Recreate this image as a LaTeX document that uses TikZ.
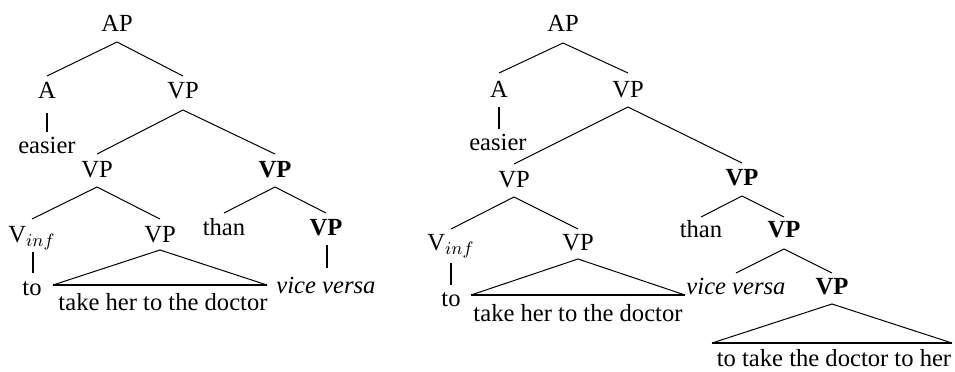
\documentclass[tikz,border=0pt]{standalone}
\usepackage{fontspec}
\setmainfont{Liberation Serif}
\usetikzlibrary{calc}
\begin{document}
\begin{tikzpicture}[x=0.5pt,y=-0.5pt,
  lbl/.style={anchor=base,inner sep=0pt,font=\fontsize{12.3}{14}\selectfont},
  branch/.style={line width=0.5pt},
  unary/.style={line width=1pt},
  roof/.style={line width=0.5pt},
  roofbase/.style={line width=1pt}]
\useasboundingbox (0,0) rectangle (955,371);

% ---------- first tree ----------
\node[lbl] (ap1)     at (117,31)  {AP};
\node[lbl] (a1)      at (47,98)   {A};
\node[lbl] (vp1)     at (183,98)  {VP};
\node[lbl] (easier1) at (47,153)  {easier};
\node[lbl] (vpl1)    at (97,177)  {VP};
\node[lbl] (vpb1)    at (275,177) {\textbf{VP}};
\node[lbl] (vinf1)   at (32,242)  {V$_{inf}$};
\node[lbl] (vpm1)    at (160,242) {VP};
\node[lbl] (than1)   at (224,235) {than};
\node[lbl] (vpc1)    at (326,235) {\textbf{VP}};
\node[lbl] (to1)     at (32,295)  {to};
\node[lbl] (vv1)     at (326,293) {\textit{vice versa}};
\node[lbl] (txt1)    at (163,310) {take her to the doctor};
\coordinate (b1l) at (53,285);
\coordinate (b1r) at (267,285);

\draw[branch] ($(ap1.base)+(0,11)$) -- ($(a1.base)+(0,-22)$);
\draw[branch] ($(ap1.base)+(0,11)$) -- ($(vp1.base)+(0,-22)$);
\draw[unary]  ($(a1.base)+(0,15)$) -- ($(easier1.base)+(0,-21)$);
\draw[branch] ($(vp1.base)+(0,12)$) -- ($(vpl1.base)+(0,-23)$);
\draw[branch] ($(vp1.base)+(0,12)$) -- ($(vpb1.base)+(0,-23)$);
\draw[branch] ($(vpl1.base)+(0,10)$) -- ($(vinf1.base)+(0,-23)$);
\draw[branch] ($(vpl1.base)+(0,10)$) -- ($(vpm1.base)+(0,-23)$);
\draw[branch] ($(vpb1.base)+(0,10)$) -- ($(than1.base)+(0,-22)$);
\draw[branch] ($(vpb1.base)+(0,10)$) -- ($(vpc1.base)+(0,-22)$);
\draw[unary]  ($(vinf1.base)+(1,10)$) -- ($(to1.base)+(1,-22)$);
\draw[unary]  ($(vpc1.base)+(1,10)$) -- ($(vv1.base)+(1,-25)$);
\draw[roof] (b1l) -- ($(vpm1.base)+(0,8)$) -- (b1r);
\draw[roofbase] (b1l) -- (b1r);

% ---------- second tree ----------
\node[lbl] (ap2)     at (563,31)  {AP};
\node[lbl] (a2)      at (499,97)  {A};
\node[lbl] (vp2)     at (628,97)  {VP};
\node[lbl] (easier2) at (498,150) {easier};
\node[lbl] (vpl2)    at (514,187) {VP};
\node[lbl] (vpb2)    at (742,185) {\textbf{VP}};
\node[lbl] (vinf2)   at (451,250) {V$_{inf}$};
\node[lbl] (vpm2)    at (578,250) {VP};
\node[lbl] (than2)   at (701,237) {than};
\node[lbl] (vpc2)    at (784,237) {\textbf{VP}};
\node[lbl] (to2)     at (451,306) {to};
\node[lbl] (txt2)    at (578,321) {take her to the doctor};
\node[lbl] (vv2)     at (736,294) {\textit{vice versa}};
\node[lbl] (vpd2)    at (832,294) {\textbf{VP}};
\node[lbl] (txt3)    at (834,366) {to take the doctor to her};
\coordinate (b2l) at (471,295);
\coordinate (b2r) at (685,295);
\coordinate (b3l) at (712,343);
\coordinate (b3r) at (952,343);

\draw[branch] ($(ap2.base)+(0,12)$) -- ($(a2.base)+(0,-24)$);
\draw[branch] ($(ap2.base)+(0,12)$) -- ($(vp2.base)+(0,-24)$);
\draw[unary]  ($(a2.base)+(0,10)$) -- ($(easier2.base)+(1,-21)$);
\draw[branch] ($(vp2.base)+(0,10)$) -- ($(vpl2.base)+(0,-23)$);
\draw[branch] ($(vp2.base)+(0,10)$) -- ($(vpb2.base)+(0,-22)$);
\draw[branch] ($(vpl2.base)+(0,10)$) -- ($(vinf2.base)+(0,-21)$);
\draw[branch] ($(vpl2.base)+(0,10)$) -- ($(vpm2.base)+(0,-21)$);
\draw[unary]  ($(vinf2.base)+(0,13)$) -- ($(to2.base)+(0,-21)$);
\draw[roof] (b2l) -- ($(vpm2.base)+(0,9)$) -- (b2r);
\draw[roofbase] (b2l) -- (b2r);
\draw[branch] ($(vpb2.base)+(0,11)$) -- ($(than2.base)+(0,-20)$);
\draw[branch] ($(vpb2.base)+(0,11)$) -- ($(vpc2.base)+(0,-20)$);
\draw[branch] ($(vpc2.base)+(0,12)$) -- ($(vv2.base)+(0,-21)$);
\draw[branch] ($(vpc2.base)+(0,12)$) -- ($(vpd2.base)+(0,-21)$);
\draw[roof] (b3l) -- ($(vpd2.base)+(0,10)$) -- (b3r);
\draw[roofbase] (b3l) -- (b3r);
\end{tikzpicture}
\end{document}
